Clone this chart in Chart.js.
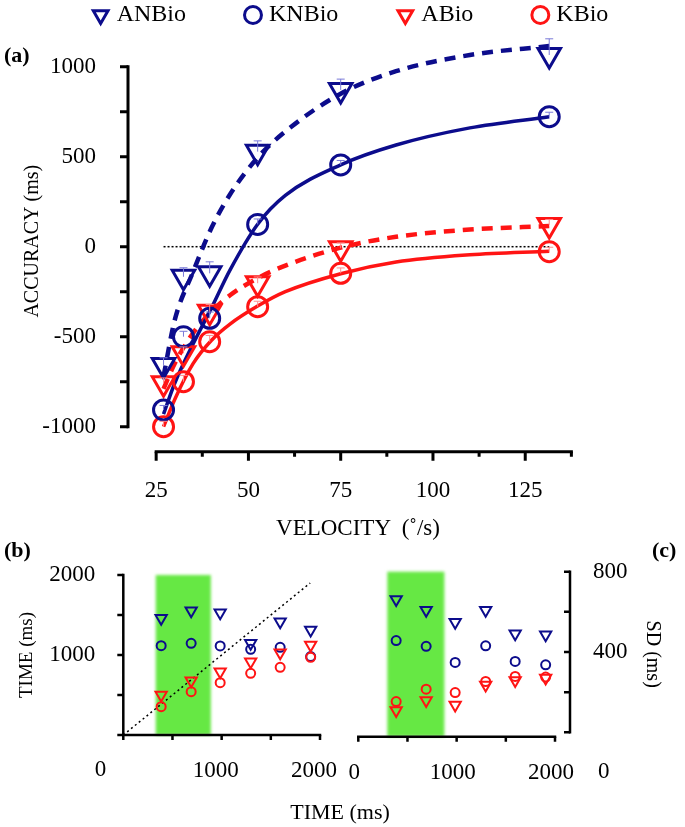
<!DOCTYPE html>
<html>
<head>
<meta charset="utf-8">
<script src="https://cdn.jsdelivr.net/npm/chart.js@4.4.1/dist/chart.umd.min.js"></script>
<style>
  body { margin: 0; background: #fff; width: 685px; height: 827px; position: relative; overflow: hidden;
         font-family: 'Liberation Serif', 'Times New Roman', serif; }
  canvas { position: absolute; }
  #chartA { left: 0; top: 0; }
  #chartB { left: 0; top: 540px; }
  #chartC { left: 340px; top: 540px; }
  .panel { position: absolute; font-weight: bold; font-size: 22px; line-height: 22px; }
  .axisTitle { position: absolute; text-align: center; font-size: 22px; line-height: 26px; white-space: pre; }
</style>
</head>
<body>
<canvas id="chartA" width="685" height="560"></canvas>
<canvas id="chartB" width="345" height="287"></canvas>
<canvas id="chartC" width="345" height="287"></canvas>
<div class="panel" style="left:4px; top:44px;">(a)</div>
<div class="panel" style="left:4px; top:539px;">(b)</div>
<div class="panel" style="left:652px; top:539px;">(c)</div>
<div class="axisTitle" style="left:208px; width:300px; top:515px; font-size:23px;">VELOCITY  (˚/s)</div>
<div class="axisTitle" style="left:240px; width:200px; top:799px;">TIME (ms)</div>
<script>
// --- Panel (a): accuracy vs velocity ---
const velocities = [27, 32.4, 39.5, 52.5, 75, 131.5];
const accANBio = [-657, -167, -148, 528, 871, 1065];
const accKNBio = [-907, -500, -398, 124, 454, 722];
const accABio  = [-759, -592, -361, -203, -9, 121];
const accKBio  = [-1000, -750, -528, -333, -148, -28];
const errANBio = [40, 50, 64, 60, 60, 90];
const errKNBio = [25, 30, 35, 30, 25, 25];
const errABio  = [30, 35, 40, 35, 30, 30];
const errKBio  = [30, 35, 35, 30, 30, 25];

// fitted curves
const fitVelocity = [27, 30, 35, 40, 45, 52.5, 60, 75, 90, 110, 131.5];
const fitANBio = [-720, -410, -140, 105, 290, 495, 640, 850, 975, 1065, 1115];
const fitKNBio = [-930, -760, -540, -340, -130, 125, 285, 455, 565, 660, 722];
const fitABio  = [-790, -650, -480, -360, -270, -175, -105, -5, 55, 95, 115];
const fitKBio  = [-1000, -850, -650, -520, -430, -330, -250, -150, -85, -45, -25];
const zeroLineX = [27, 131.5];

const accXLabels = [25, 50, 75, 100, 125];
const accXMarks = [25, 37.5, 50, 62.5, 75, 87.5, 100, 112.5, 125, 137.5];
const accYLabels = [-1000, -500, 0, 500, 1000];
const accYMarks = [-1000, -750, -500, -250, 0, 250, 500, 750, 1000];

// --- Panel (b): response time vs stimulus time ---
const durations = [385, 690, 985, 1295, 1595, 1905];
const timeANBio = [1458, 1554, 1529, 1146, 1417, 1313];
const timeKNBio = [1117, 1146, 1113, 1071, 1096, 980];
const timeABio  = [500, 679, 792, 917, 1029, 1125];
const timeKBio  = [354, 542, 654, 771, 846, 971];
const identityX = [0, 1900];
const bandB = [330, 890];

// --- Panel (c): SD vs stimulus time ---
const sdANBio = [661, 608, 548, 608, 491, 486];
const sdKNBio = [457, 428, 348, 431, 353, 336];
const sdABio  = [108, 158, 136, 236, 258, 270];
const sdKBio  = [153, 215, 198, 253, 278, 275];
const bandC = [295, 875];

const timeMarks = [0, 500, 1000, 1500, 2000];
const sdMarks = [0, 200, 400, 600, 800];

const BLUE = '#0c0c8c';
const RED = '#ff1414';
const SERIF = "'Liberation Serif', 'Times New Roman', serif";
const legendGap = '\u2003\u2003\u2002';

Chart.defaults.font.family = SERIF;
Chart.defaults.color = '#000';
Chart.defaults.animation = false;

const pts = (xs, ys) => xs.map((x, i) => ({ x: x, y: ys[i] }));
const plain = v => String(v);

// label gap is kept in tickLength (grid hidden) so it doesn't pad the chart area
const hiddenGrid = gap => ({ display: false, drawTicks: true, tickLength: gap });

// draws Prism-style detached axes with tick marks
const axisLines = {
  id: 'axisLines',
  afterDatasetsDraw(chart, args, o) {
    if (!o.x) return;
    const { ctx, chartArea } = chart;
    const xs = chart.scales.x, ys = chart.scales.y;
    const yb = chartArea.bottom;
    const xy = o.y.right ? chartArea.right : chartArea.left;
    ctx.save();
    ctx.strokeStyle = '#000';
    ctx.lineWidth = o.width;
    ctx.lineCap = 'square';
    ctx.beginPath();
    ctx.moveTo(xs.getPixelForValue(o.x.from), yb);
    ctx.lineTo(xs.getPixelForValue(o.x.to), yb);
    ctx.moveTo(xy, ys.getPixelForValue(o.y.from));
    ctx.lineTo(xy, ys.getPixelForValue(o.y.to));
    ctx.stroke();
    ctx.lineCap = 'butt';
    ctx.beginPath();
    o.x.marks.forEach(v => {
      const px = xs.getPixelForValue(v);
      const len = (o.x.major && !o.x.major.includes(v)) ? o.x.minorLen : o.x.len;
      ctx.moveTo(px, yb);
      ctx.lineTo(px, yb + len);
    });
    o.y.marks.forEach(v => {
      const py = ys.getPixelForValue(v);
      ctx.moveTo(xy, py);
      ctx.lineTo(xy - o.y.len, py);
    });
    ctx.stroke();
    if (o.zero) {
      ctx.fillStyle = '#000';
      ctx.font = o.zero.size + 'px ' + SERIF;
      ctx.textBaseline = 'middle';
      ctx.textAlign = o.y.right ? 'left' : 'right';
      const zx = o.y.right ? chartArea.right + o.zero.dx : chartArea.left - o.zero.dx;
      ctx.fillText('0', zx, yb + o.zero.dy);
    }
    ctx.restore();
  }
};

// small upward error bars
const errorBars = {
  id: 'errorBars',
  afterDatasetsDraw(chart) {
    const ctx = chart.ctx, ys = chart.scales.y;
    chart.data.datasets.forEach((ds, i) => {
      if (!ds.errors) return;
      const meta = chart.getDatasetMeta(i);
      ctx.save();
      ctx.strokeStyle = ds.errorColor;
      ctx.lineWidth = 1;
      meta.data.forEach((pt, j) => {
        const top = ys.getPixelForValue(ds.data[j].y + ds.errors[j]);
        ctx.beginPath();
        ctx.moveTo(pt.x, pt.y);
        ctx.lineTo(pt.x, top);
        ctx.moveTo(pt.x - 4, top);
        ctx.lineTo(pt.x + 4, top);
        ctx.stroke();
      });
      ctx.restore();
    });
  }
};

// shaded green window
const greenBand = {
  id: 'greenBand',
  beforeDatasetsDraw(chart, args, o) {
    if (!o.range) return;
    const { ctx, chartArea } = chart;
    const xs = chart.scales.x;
    const x0 = xs.getPixelForValue(o.range[0]);
    const x1 = xs.getPixelForValue(o.range[1]);
    ctx.save();
    ctx.fillStyle = '#66e844';
    ctx.filter = 'blur(1.5px)';
    ctx.fillRect(x0, chartArea.top, x1 - x0, chartArea.bottom - chartArea.top);
    ctx.restore();
  }
};

Chart.register(axisLines, errorBars, greenBand);

function markers(label, data, style, color, r, bw, extra) {
  return Object.assign({
    label: label,
    data: data,
    showLine: false,
    pointStyle: style,
    pointRotation: style === 'triangle' ? 180 : 0,
    pointRadius: r,
    pointHoverRadius: r,
    pointBorderWidth: bw,
    pointBorderColor: color,
    pointBackgroundColor: 'rgba(0,0,0,0)',
    borderColor: color,
    backgroundColor: 'rgba(0,0,0,0)',
    clip: false
  }, extra || {});
}

function curve(data, color, dash) {
  return {
    label: '',
    data: data,
    showLine: true,
    borderColor: color,
    borderWidth: dash ? 4.5 : 3.5,
    borderDash: dash ? [11, 8] : [],
    cubicInterpolationMode: 'monotone',
    pointRadius: 0,
    pointHoverRadius: 0,
    clip: false
  };
}

function fixedTicks(values) {
  return s => { s.ticks = values.map(v => ({ value: v })); };
}

// ---------- (a) ----------
new Chart(document.getElementById('chartA'), {
  type: 'scatter',
  data: {
    datasets: [
      markers('ANBio', pts(velocities, accANBio), 'triangle', BLUE, 13, 3, { errors: errANBio, errorColor: '#7a7ad8' }),
      markers('KNBio', pts(velocities, accKNBio), 'circle', BLUE, 10, 3, { errors: errKNBio, errorColor: '#7a7ad8' }),
      markers('ABio', pts(velocities, accABio), 'triangle', RED, 13, 3, { errors: errABio, errorColor: '#ff8c8c' }),
      markers('KBio', pts(velocities, accKBio), 'circle', RED, 10, 3, { errors: errKBio, errorColor: '#ff8c8c' }),
      curve(pts(fitVelocity, fitANBio), BLUE, true),
      curve(pts(fitVelocity, fitKNBio), BLUE, false),
      curve(pts(fitVelocity, fitABio), RED, true),
      curve(pts(fitVelocity, fitKBio), RED, false),
      {
        label: '',
        data: pts(zeroLineX, [0, 0]),
        showLine: true,
        borderColor: '#000',
        borderWidth: 1.5,
        borderDash: [2, 2],
        pointRadius: 0
      }
    ]
  },
  options: {
    responsive: false,
    layout: { padding: { left: 20, right: 0, top: 0, bottom: 0 } },
    plugins: {
      tooltip: { enabled: false },
      legend: {
        display: true,
        position: 'top',
        maxHeight: 30.7,
        labels: {
          usePointStyle: true,
          boxWidth: 8,
          boxHeight: 12,
          padding: 3,
          color: '#000',
          font: { family: SERIF, size: 24 },
          generateLabels: chart => Chart.defaults.plugins.legend.labels.generateLabels(chart)
            .filter(l => l.datasetIndex < 4)
            .map((l, i) => Object.assign(l, { text: i < 3 ? l.text + legendGap : l.text }))
        }
      },
      axisLines: {
        width: 3,
        x: { from: 25, to: 137.5, marks: accXMarks, major: accXLabels, len: 9, minorLen: 5 },
        y: { from: -1000, to: 1000, marks: accYMarks, len: 8 }
      }
    },
    scales: {
      x: {
        type: 'linear',
        min: 17.37,
        max: 163.95,
        afterFit: s => { s.height = 108.3; },
        afterBuildTicks: fixedTicks(accXLabels),
        grid: hiddenGrid(25),
        border: { display: false },
        ticks: { color: '#000', font: { size: 23 }, padding: 0, autoSkip: false, maxRotation: 0, callback: plain }
      },
      y: {
        type: 'linear',
        min: -1138.9,
        max: 1200,
        afterFit: s => { s.width = 108; },
        afterBuildTicks: fixedTicks(accYLabels),
        grid: hiddenGrid(32),
        border: { display: false },
        ticks: { color: '#000', font: { size: 23 }, padding: 0, callback: plain },
        title: { display: true, text: 'ACCURACY (ms)', color: '#000', font: { size: 20 }, padding: { top: 1, bottom: 0 } }
      }
    }
  }
});

// ---------- (b) ----------
new Chart(document.getElementById('chartB'), {
  type: 'scatter',
  data: {
    datasets: [
      markers('KBio', pts(durations, timeKBio), 'circle', RED, 4.5, 2),
      markers('ABio', pts(durations, timeABio), 'triangle', RED, 6.5, 2),
      markers('KNBio', pts(durations, timeKNBio), 'circle', BLUE, 4.5, 2),
      markers('ANBio', pts(durations, timeANBio), 'triangle', BLUE, 6.5, 2),
      {
        label: '',
        data: pts(identityX, identityX),
        showLine: true,
        borderColor: '#000',
        borderWidth: 1.5,
        borderDash: [2, 3],
        pointRadius: 0
      }
    ]
  },
  options: {
    responsive: false,
    layout: { padding: { left: 0, right: 25, top: 35, bottom: 0 } },
    plugins: {
      tooltip: { enabled: false },
      legend: { display: false },
      greenBand: { range: bandB },
      axisLines: {
        width: 2.5,
        x: { from: 0, to: 2000, marks: timeMarks, len: 5 },
        y: { from: 0, to: 2000, marks: timeMarks, len: 6 },
        zero: { dx: 17, dy: 35, size: 23 }
      }
    },
    scales: {
      x: {
        type: 'linear', min: 0, max: 2000,
        afterFit: s => { s.height = 92; },
        afterBuildTicks: fixedTicks([1000, 2000]),
        grid: hiddenGrid(22),
        border: { display: false },
        ticks: { color: '#000', font: { size: 23 }, padding: 0, labelOffset: -6, autoSkip: false, maxRotation: 0, callback: plain }
      },
      y: {
        type: 'linear', min: 0, max: 2000,
        afterFit: s => { s.width = 123.3; },
        afterBuildTicks: fixedTicks([1000, 2000]),
        grid: hiddenGrid(28),
        border: { display: false },
        ticks: { color: '#000', font: { size: 23 }, padding: 0, callback: plain },
        title: { display: true, text: 'TIME (ms)', color: '#000', font: { size: 19 }, padding: { top: 16, bottom: 0 } }
      }
    }
  }
});

// ---------- (c) ----------
new Chart(document.getElementById('chartC'), {
  type: 'scatter',
  data: {
    datasets: [
      markers('KBio', pts(durations, sdKBio), 'circle', RED, 4.5, 2),
      markers('ABio', pts(durations, sdABio), 'triangle', RED, 6.5, 2),
      markers('KNBio', pts(durations, sdKNBio), 'circle', BLUE, 4.5, 2),
      markers('ANBio', pts(durations, sdANBio), 'triangle', BLUE, 6.5, 2)
    ]
  },
  options: {
    responsive: false,
    layout: { padding: { left: 18.3, right: 0, top: 31.7, bottom: 0 } },
    plugins: {
      tooltip: { enabled: false },
      legend: { display: false },
      greenBand: { range: bandC },
      axisLines: {
        width: 2.5,
        x: { from: 0, to: 2000, marks: timeMarks, len: 5 },
        y: { right: true, from: 0, to: 800, marks: sdMarks, len: 6 },
        zero: { dx: 28, dy: 35, size: 23 }
      }
    },
    scales: {
      x: {
        type: 'linear', min: 0, max: 2152.5,
        afterFit: s => { s.height = 90.3; },
        afterBuildTicks: fixedTicks([0, 1000, 2000]),
        grid: hiddenGrid(22),
        border: { display: false },
        ticks: { color: '#000', font: { size: 23 }, padding: 0, labelOffset: -4, autoSkip: false, maxRotation: 0, callback: plain }
      },
      y: {
        type: 'linear', position: 'right', min: -22, max: 800,
        afterFit: s => { s.width = 115; },
        afterBuildTicks: fixedTicks([400, 800]),
        grid: hiddenGrid(23),
        border: { display: false },
        ticks: { color: '#000', font: { size: 23 }, padding: 0, callback: plain },
        title: { display: true, text: 'SD (ms)', color: '#000', font: { size: 20 }, padding: { top: 21, bottom: 0 } }
      }
    }
  }
});
</script>
</body>
</html>
